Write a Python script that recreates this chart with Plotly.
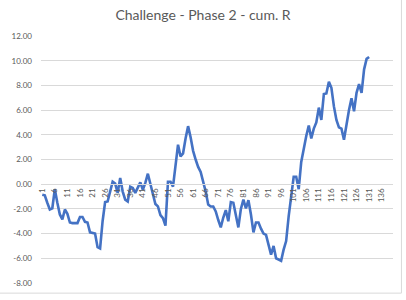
import plotly.graph_objects as go

title = "Challenge - Phase 2 - cum. R"
categories = list(range(1, 141))
cum_r = [
    -0.85, -0.9, -1.5, -2.05, -1.95, -0.4, -1.5, -2.45, -2.85, -2.05,
    -2.4, -3.1, -3.15, -3.15, -3.15, -2.65, -2.65, -3.05, -3.1, -3.9,
    -3.95, -4.0, -5.1, -5.2, -3.0, -1.45, -1.4, -0.5, 0.2, 0.05,
    -0.7, 0.5, -0.6, -1.25, -1.4, -0.2, -0.3, -0.7, -0.3, 0.15,
    -0.45, 0.1, 0.85, 0.0, -0.7, -1.6, -1.8, -2.5, -2.75, -3.35,
    0.2, 0.2, -0.2, 1.5, 3.2, 2.25, 2.5, 3.7, 4.7, 3.8,
    2.7, 2.0, 1.4, 1.0, 0.3, -0.6, -1.65, -1.8, -1.8, -2.2,
    -2.9, -3.5, -2.7, -2.1, -3.0, -1.45, -1.5, -2.5, -3.5, -2.0,
    -1.25, -1.95, -1.3, -2.45, -3.9, -3.1, -3.1, -3.6, -4.0, -4.1,
    -4.9, -5.7, -5.0, -6.0, -6.1, -6.2, -5.3, -4.6, -2.6, -1.0,
    0.6, 0.6, -0.4, 1.8, 2.9, 3.9, 4.75, 3.7, 4.5, 5.0,
    6.2, 5.2, 7.3, 7.35, 8.3, 7.8, 6.3, 5.2, 4.6, 4.5,
    3.6, 5.0, 6.0, 6.95, 5.9, 7.4, 8.1, 7.4, 9.3, 10.15,
    10.3,
]
x_tick_vals = list(range(1, 141, 5))
x_tick_text = [str(v) for v in x_tick_vals]
y_tick_vals = [-8, -6, -4, -2, 0, 2, 4, 6, 8, 10, 12]
y_tick_text = ["-8.00", "-6.00", "-4.00", "-2.00", "0.00", "2.00", "4.00",
               "6.00", "8.00", "10.00", "12.00"]

FONT = "Lato, 'Open Sans', sans-serif"
GRAY = "#595959"
GRID = "#d9d9d9"

fig = go.Figure()
fig.add_trace(go.Scatter(
    x=categories[:len(cum_r)], y=cum_r, mode="lines",
    line=dict(color="#4472C4", width=2.6),
    hoverinfo="skip", showlegend=False,
))

ymin, ymax = -8, 12
fig.update_layout(
    width=406, height=300,
    margin=dict(l=35, r=13, t=36, b=14),
    paper_bgcolor="white", plot_bgcolor="white",
    title=dict(text=title, x=0.5, xanchor="center", y=0.95, yanchor="middle",
               font=dict(family=FONT, size=14, color=GRAY)),
    font=dict(family=FONT, color=GRAY),
    xaxis=dict(
        range=[0.5, 140.5], tickmode="array", tickvals=x_tick_vals,
        ticktext=x_tick_text, tickangle=-90, tickfont=dict(size=8, color=GRAY),
        showgrid=False, zeroline=False, showline=True, linecolor=GRID,
        linewidth=1, ticks="", anchor="free",
        position=(0 - ymin) / (ymax - ymin),
    ),
    yaxis=dict(
        range=[ymin, ymax], tickmode="array", tickvals=y_tick_vals,
        ticktext=y_tick_text, tickfont=dict(size=8, color=GRAY),
        showgrid=True, gridcolor=GRID, gridwidth=1, zeroline=False,
        showline=False, ticks="", ticklabelstandoff=8,
    ),
)

# chart border (spreadsheet edge) at right and bottom
fig.add_shape(type="line", xref="paper", yref="paper", x0=-0.2, x1=1.024,
              y0=-0.041, y1=-0.041, line=dict(color=GRID, width=1))
fig.add_shape(type="line", xref="paper", yref="paper", x0=1.024, x1=1.024,
              y0=-0.041, y1=1.2, line=dict(color=GRID, width=1))

fig.write_html("out.html")
